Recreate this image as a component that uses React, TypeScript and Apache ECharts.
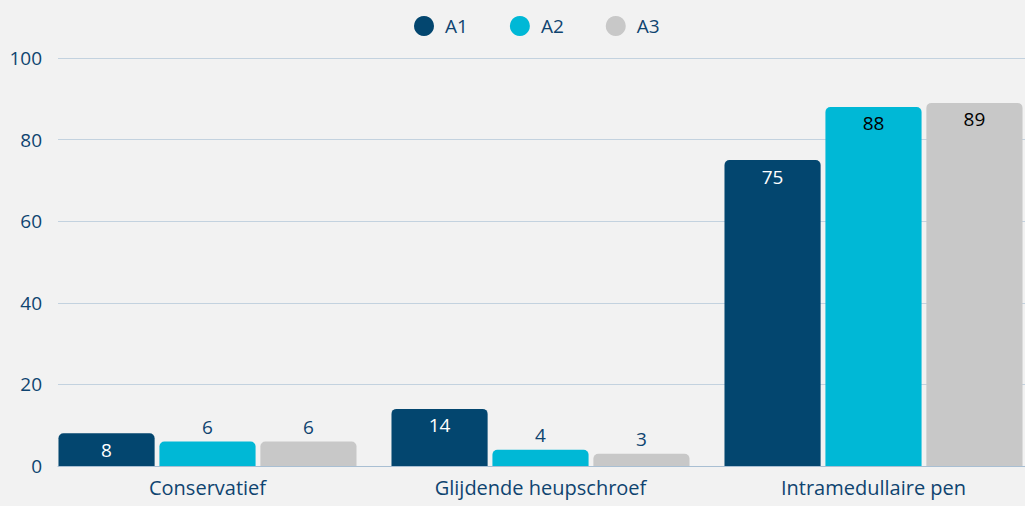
import React, { useEffect, useRef } from "react";
import * as echarts from "echarts";

const categories = ["Conservatief", "Glijdende heupschroef", "Intramedullaire pen"];
const seriesNames = ["A1", "A2", "A3"];
const a1Values = [8, 14, 75];
const a2Values = [6, 4, 88];
const a3Values = [6, 3, 89];
const yTicks = [0, 20, 40, 60, 80, 100];

const colors = ["#03466f", "#00b8d6", "#c8c8c8"];
const insideLabelColors = ["#ffffff", "#000000", "#000000"];
const axisTextColor = "#0f4470";
const FONT = "'Open Sans', 'Noto Sans', sans-serif";

export default function App() {
  const ref = useRef<HTMLDivElement>(null);
  useEffect(() => {
    if (!ref.current) return;
    const chart = echarts.init(ref.current, undefined, { renderer: "svg" });
    const all = [a1Values, a2Values, a3Values];
    const yMin = yTicks[0];
    const yMax = yTicks[yTicks.length - 1];
    const yInterval = yTicks[1] - yTicks[0];
    const series = all.map((vals, si) => ({
      name: seriesNames[si],
      type: "bar",
      xAxisIndex: 1,
      yAxisIndex: 1,
      barGap: "5%",
      barCategoryGap: "10.5%",
      itemStyle: { color: colors[si], borderRadius: [5, 5, 0, 0] },
      data: vals.map((v) => {
        const inside = v >= 8;
        return {
          value: v,
          label: {
            show: true,
            position: inside ? "insideTop" : "top",
            distance: inside ? 7 : 5,
            color: inside ? insideLabelColors[si] : axisTextColor,
            fontSize: 19,
            fontFamily: FONT,
          },
        };
      }),
    }));
    chart.setOption({
      animation: false,
      backgroundColor: "#f2f2f2",
      textStyle: { fontFamily: FONT },
      legend: {
        top: 11,
        left: 409,
        data: seriesNames,
        icon: "circle",
        itemWidth: 20,
        itemHeight: 20,
        itemGap: 42,
        textStyle: {
          color: axisTextColor,
          fontSize: 19,
          fontFamily: FONT,
          padding: [0, 0, 0, 6],
        },
      },
      grid: [
        { left: 58, right: 15, top: 58, bottom: 40, containLabel: false },
        { left: 41, right: 0, top: 58, bottom: 40, containLabel: false },
      ],
      xAxis: [
        {
          type: "value",
          gridIndex: 0,
          min: 0,
          max: 1,
          axisLine: { show: true, onZero: false, lineStyle: { color: "#a9bfd3", width: 1 } },
          axisTick: { show: false },
          axisLabel: { show: false },
          splitLine: { show: false },
        },
        {
          type: "category",
          gridIndex: 1,
          data: categories,
          axisLine: { show: false },
          axisTick: { show: false },
          axisLabel: { color: axisTextColor, fontSize: 20, fontFamily: FONT, margin: 11 },
        },
      ],
      yAxis: [
        {
          type: "value",
          gridIndex: 0,
          min: yMin,
          max: yMax,
          interval: yInterval,
          axisLine: { show: false },
          axisTick: { show: false },
          splitLine: { lineStyle: { color: "#c3d2df", width: 1 } },
          axisLabel: { color: axisTextColor, fontSize: 19, fontFamily: FONT, margin: 16 },
        },
        {
          type: "value",
          gridIndex: 1,
          min: yMin,
          max: yMax,
          interval: yInterval,
          show: false,
          splitLine: { show: false },
        },
      ],
      series,
    });
    return () => chart.dispose();
  }, []);
  return (
    <div
      style={{
        position: "absolute",
        left: 0,
        top: 0,
        width: 1025,
        height: 506,
        overflow: "hidden",
      }}
    >
      <div ref={ref} style={{ width: 1040, height: 506 }} />
    </div>
  );
}
